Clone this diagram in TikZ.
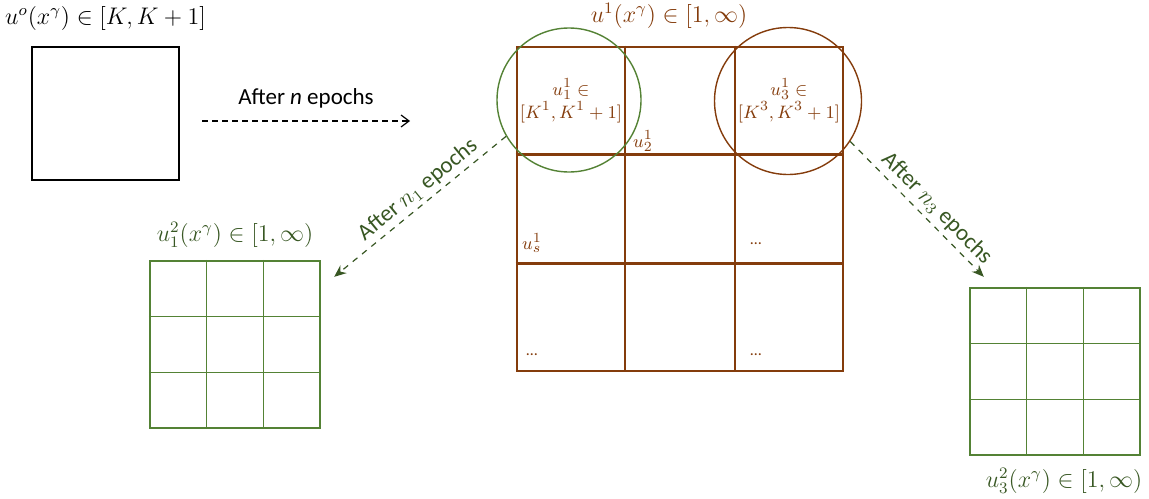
\documentclass[tikz,border=0pt]{standalone}
\usepackage{amsmath}
\usepackage[no-math]{fontspec}
\setmainfont{Carlito}
\usetikzlibrary{arrows.meta,positioning,calc}

\definecolor{brn}{HTML}{843C0C}
\definecolor{grn}{HTML}{548235}
\definecolor{dgrn}{HTML}{385723}

\begin{document}
\begin{tikzpicture}[x=0.5pt, y=-0.5pt,
  sqbox/.style={draw, line width=1.1pt, inner sep=0pt, minimum width=73.5pt, minimum height=66.5pt},
  bigbox/.style={draw=brn, line width=1.3pt, inner sep=0pt, minimum width=163pt, minimum height=162pt},
  gbox/.style={draw=grn, line width=1.2pt, inner sep=0pt, minimum width=85pt, minimum height=83.5pt},
  bline/.style={draw=brn, line width=1.2pt},
  gline/.style={draw=grn, line width=0.7pt},
  ring/.style={circle, draw=#1, line width=0.7pt, inner sep=0pt},
  mlbl/.style={font=\fontsize{12}{14}\selectfont, inner sep=1pt},
  cell/.style={text=brn, font=\fontsize{9.5}{10.5}\selectfont, align=center, inner sep=0pt},
  dots/.style={text=brn, font=\fontsize{8}{9}\selectfont, inner sep=0pt},
  txt/.style={font=\fontsize{11.5}{13}\selectfont, inner sep=1pt},
  barr/.style={densely dashed, line width=0.6pt, -{Straight Barb[length=4pt, width=6pt]}},
  garr/.style={dgrn, dashed, line width=0.6pt, -{Stealth[length=6pt, width=5pt]}}
]
  \useasboundingbox (0,0) rectangle (1149,498);

  % starting square
  \node[sqbox] (sq0) at (105.5,113.5) {};
  \node[mlbl, above=6.5pt of sq0] (lbl0) {$u^o(x^\gamma)\in[K,K+1]$};

  \coordinate (a0) at (202,121);
  \coordinate (b0) at (410,121);
  \draw[barr] (a0) -- node[txt, above=5pt] {After \textit{n} epochs} (b0);

  % big grid
  \node[bigbox] (big) at (680,209) {};
  \foreach \f in {1,2} {
    \draw[bline] ($(big.north west)!\f/3!(big.north east)$) -- ($(big.south west)!\f/3!(big.south east)$);
    \draw[bline] ($(big.north west)!\f/3!(big.south west)$) -- ($(big.north east)!\f/3!(big.south east)$);
  }
  \node[mlbl, text=brn] (lbl1) at (669,16) {$u^1(x^\gamma)\in[1,\infty)$};

  \node[ring=grn, minimum size=72pt] (c1) at (569,100) {};
  \node[ring=brn, minimum size=73.5pt] (c3) at (788,101) {};

  \node[cell] (t1) at (571,101) {$u_1^1\in$\\$[K^1,K^1+1]$};
  \node[cell] (t3) at (789,101) {$u_3^1\in$\\$[K^3,K^3+1]$};
  \node[cell] (t2) at (643,141) {$u_2^1$};
  \node[cell] (ts) at (532,243) {$u_s^1$};
  \node[dots] (d1) at (756,244) {\ldots};
  \node[dots] (d2) at (532,355) {\ldots};
  \node[dots] (d3) at (756,355) {\ldots};

  % small grids
  \node[gbox] (g1) at (235,344.5) {};
  \node[gbox] (g3) at (1055,371.5) {};
  \foreach \g in {g1,g3} {
    \foreach \f in {1,2} {
      \draw[gline] ($(\g.north west)!\f/3!(\g.north east)$) -- ($(\g.south west)!\f/3!(\g.south east)$);
      \draw[gline] ($(\g.north west)!\f/3!(\g.south west)$) -- ($(\g.north east)!\f/3!(\g.south east)$);
    }
  }
  \node[mlbl, text=dgrn, above=5pt of g1] (lbl2) {$u_1^2(x^\gamma)\in[1,\infty)$};
  \node[mlbl, text=dgrn] (lbl3) at (1064,481) {$u_3^2(x^\gamma)\in[1,\infty)$};

  \coordinate (e1) at ($(g1.north east)+(13,17)$);
  \coordinate (e3) at ($(g3.north west)+(15,-10)$);
  \draw[garr] (c1.210) -- node[txt, text=dgrn, pos=0.46, sloped, above=1pt] {After $n_1$ epochs} (e1);
  \draw[garr] (c3.-33) -- node[txt, text=dgrn, pos=0.57, sloped, above=1pt] {After $n_3$ epochs} (e3);
\end{tikzpicture}
\end{document}
